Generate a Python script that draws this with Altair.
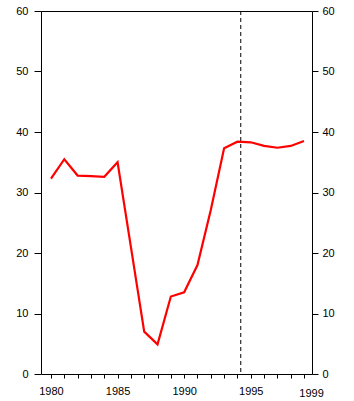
import altair as alt
import pandas as pd

years = list(range(1980, 2000))
values = [32.3, 35.5, 32.8, 32.7, 32.6, 35.0, 21.0, 7.0, 4.9, 12.8,
          13.5, 18.0, 27.1, 37.3, 38.4, 38.3, 37.7, 37.4, 37.7, 38.5]
marker_year = [1994.25]
x_labels = [1980, 1985, 1990, 1995, 1999]
y_ticks = [0, 10, 20, 30, 40, 50, 60]

df = pd.DataFrame({"year": years, "value": values})
df_rule = pd.DataFrame({"year": marker_year})

FONT = "Liberation Sans"

x_scale = alt.Scale(domain=[1979.25, 1999.6], nice=False, zero=False)
y_scale = alt.Scale(domain=[0, 60], nice=False)

label_test = " || ".join(f"datum.value == {v}" for v in x_labels)

x_axis = alt.Axis(
    values=years, format="d", title=None, grid=False, domain=False,
    tickSize=4, tickColor="black", labelColor="black", labelFont=FONT,
    labelFontSize=11, labelOverlap=False,
    labelPadding=alt.ExprRef(expr="datum.value == 1999 ? 9 : 7"),
    labelExpr=f"({label_test}) ? datum.label : ''",
    labelOffset=alt.ExprRef(expr="datum.value == 1999 ? 7 : 0"),
    labelFlush=False,
)

rule = alt.Chart(df_rule).mark_rule(color="black", strokeWidth=1, strokeDash=[4, 3]).encode(
    x=alt.X("year:Q", scale=x_scale, axis=x_axis)
)

line = alt.Chart(df).mark_line(color="#ff0000", strokeWidth=2.2).encode(
    x=alt.X("year:Q", scale=x_scale, axis=x_axis),
    y=alt.Y("value:Q", scale=y_scale, axis=alt.Axis(
        orient="left", values=y_ticks, title=None, grid=False, domain=False,
        tickSize=7, tickColor="black", labelColor="black", labelFont=FONT,
        labelFontSize=11, labelPadding=6)),
)

line_right = alt.Chart(df).mark_line(strokeOpacity=0).encode(
    x=alt.X("year:Q", scale=x_scale, axis=x_axis),
    y=alt.Y("value:Q", scale=y_scale, axis=alt.Axis(
        orient="right", values=y_ticks, title=None, grid=False, domain=False,
        tickSize=6, tickColor="black", labelColor="black", labelFont=FONT,
        labelFontSize=11, labelPadding=4)),
)

chart = alt.layer(rule, line, line_right).resolve_axis(y="independent").properties(
    width=271, height=363,
    autosize=alt.AutoSizeParams(type="none"),
    padding={"left": 41, "top": 11, "right": 42, "bottom": 27},
    background="white",
).configure_view(stroke="black", strokeWidth=1)

chart.save("out.html", embed_options={"renderer": "svg", "actions": False})
